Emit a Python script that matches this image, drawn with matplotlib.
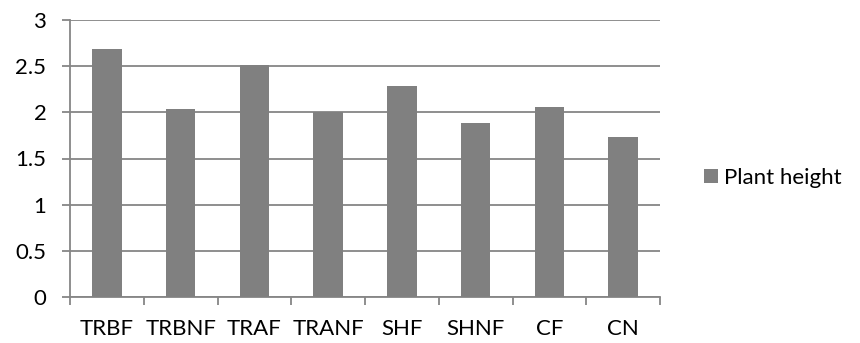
import numpy as np
import matplotlib.pyplot as plt

# Plant height by treatment
categories = ['TRBF', 'TRBNF', 'TRAF', 'TRANF', 'SHF', 'SHNF', 'CF', 'CN']
plant_height = [2.69, 2.04, 2.51, 2.00, 2.29, 1.88, 2.06, 1.73]

plt.rcParams['font.family'] = ['Lato', 'DejaVu Sans']
grid_color = '#868686'
bar_color = '#808080'
fs = 16

fig = plt.figure(figsize=(8.6, 3.43), dpi=100)
ax = fig.add_axes([70 / 860, 46 / 343, 590 / 860, 277 / 343])

x = np.arange(len(categories))
ax.bar(x, plant_height, width=0.4, color=bar_color, label='Plant height', zorder=3)

ax.set_xlim(-0.5, len(categories) - 0.5)
ax.set_ylim(0, 3)
ax.set_yticks(np.arange(0, 3.01, 0.5))
ax.set_yticklabels(['0', '0.5', '1', '1.5', '2', '2.5', '3'])
ax.yaxis.grid(True, color=grid_color, linewidth=1.3, zorder=0)

# category labels centred, tick marks on the boundaries
ax.set_xticks(x)
ax.set_xticklabels(categories)
ax.tick_params(axis='x', length=0, pad=16, labelsize=fs)
ax.set_xticks(np.arange(-0.5, len(categories)), minor=True)
ax.tick_params(axis='x', which='minor', length=6, width=1.3, color=grid_color)
ax.tick_params(axis='y', length=6, width=1.3, color=grid_color, pad=11, labelsize=fs)

for side in ['top', 'right']:
    ax.spines[side].set_visible(False)
for side in ['left', 'bottom']:
    ax.spines[side].set_color(grid_color)
    ax.spines[side].set_linewidth(1.3)

ax.legend(loc='center left', bbox_to_anchor=(1.06, 0.43), frameon=False,
          fontsize=fs, handlelength=0.6, handleheight=0.6, handletextpad=0.3,
          borderaxespad=0)

fig.savefig('out.png', dpi=100)
